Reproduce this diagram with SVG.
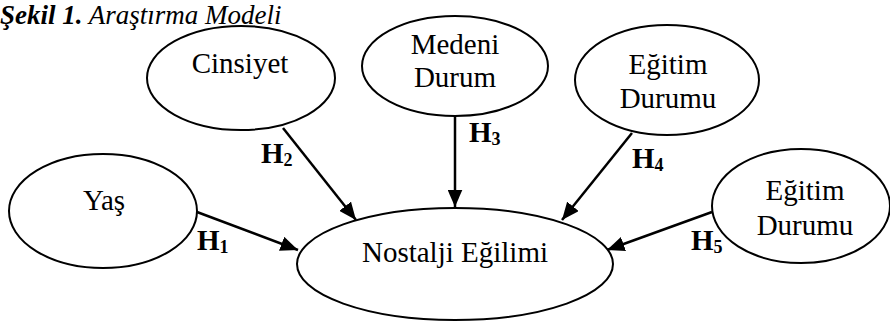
<svg xmlns="http://www.w3.org/2000/svg" width="890" height="322" viewBox="0 0 890 322">
<style>
.node ellipse{fill:#fff;stroke:#000;stroke-width:2}
.t{font-family:"Liberation Serif","Times New Roman",serif;font-size:29px;text-anchor:middle;fill:#000}
.h{font-family:"Liberation Serif","Times New Roman",serif;font-size:29px;font-weight:bold;fill:#000}
.h tspan{font-size:18px}
.title{font-family:"Liberation Serif","Times New Roman",serif;font-size:27px;font-style:italic;fill:#000}
#connectors line{stroke:#000;stroke-width:2.5;marker-end:url(#arr)}
</style>
<defs>
<marker id="arr" viewBox="0 0 10 10" refX="10" refY="5" markerWidth="7" markerHeight="6" orient="auto" markerUnits="strokeWidth" preserveAspectRatio="none">
<path d="M0,0 L10,5 L0,10 Z" fill="#000"/>
</marker>
</defs>
<rect width="890" height="322" fill="#fff"/>
<text class="title" x="0" y="24"><tspan font-weight="bold">Şekil 1.</tspan> Araştırma Modeli</text>
<g id="connectors">
<line x1="197" y1="212" x2="298" y2="250"/>
<line x1="283" y1="128" x2="356" y2="220"/>
<line x1="455" y1="115" x2="455" y2="207"/>
<line x1="632" y1="133" x2="562" y2="220"/>
<line x1="712" y1="212" x2="607" y2="250"/>
<text class="h" x="197" y="250">H<tspan dy="3">1</tspan></text>
<text class="h" x="261" y="163">H<tspan dy="3">2</tspan></text>
<text class="h" x="469" y="142">H<tspan dy="3">3</tspan></text>
<text class="h" x="632" y="168">H<tspan dy="3">4</tspan></text>
<text class="h" x="691" y="250">H<tspan dy="3">5</tspan></text>
</g>
<g id="yas" class="node">
<ellipse cx="103" cy="211" rx="94" ry="57"/>
<text class="t" x="104" y="210">Yaş</text>
</g>
<g id="cinsiyet" class="node">
<ellipse cx="241" cy="78" rx="94" ry="52"/>
<text class="t" x="240" y="73">Cinsiyet</text>
</g>
<g id="medeni" class="node">
<ellipse cx="455" cy="66" rx="93" ry="50"/>
<text class="t" x="455" y="54">Medeni</text>
<text class="t" x="455" y="87">Durum</text>
</g>
<g id="egitim1" class="node">
<ellipse cx="667" cy="80" rx="92" ry="55"/>
<text class="t" x="668" y="74">Eğitim</text>
<text class="t" x="668" y="108">Durumu</text>
</g>
<g id="egitim2" class="node">
<ellipse cx="801" cy="206" rx="89" ry="57"/>
<text class="t" x="805" y="200">Eğitim</text>
<text class="t" x="805" y="235">Durumu</text>
</g>
<g id="nostalji" class="node">
<ellipse cx="455" cy="264" rx="158" ry="56"/>
<text class="t" x="455" y="262">Nostalji Eğilimi</text>
</g>
</svg>
